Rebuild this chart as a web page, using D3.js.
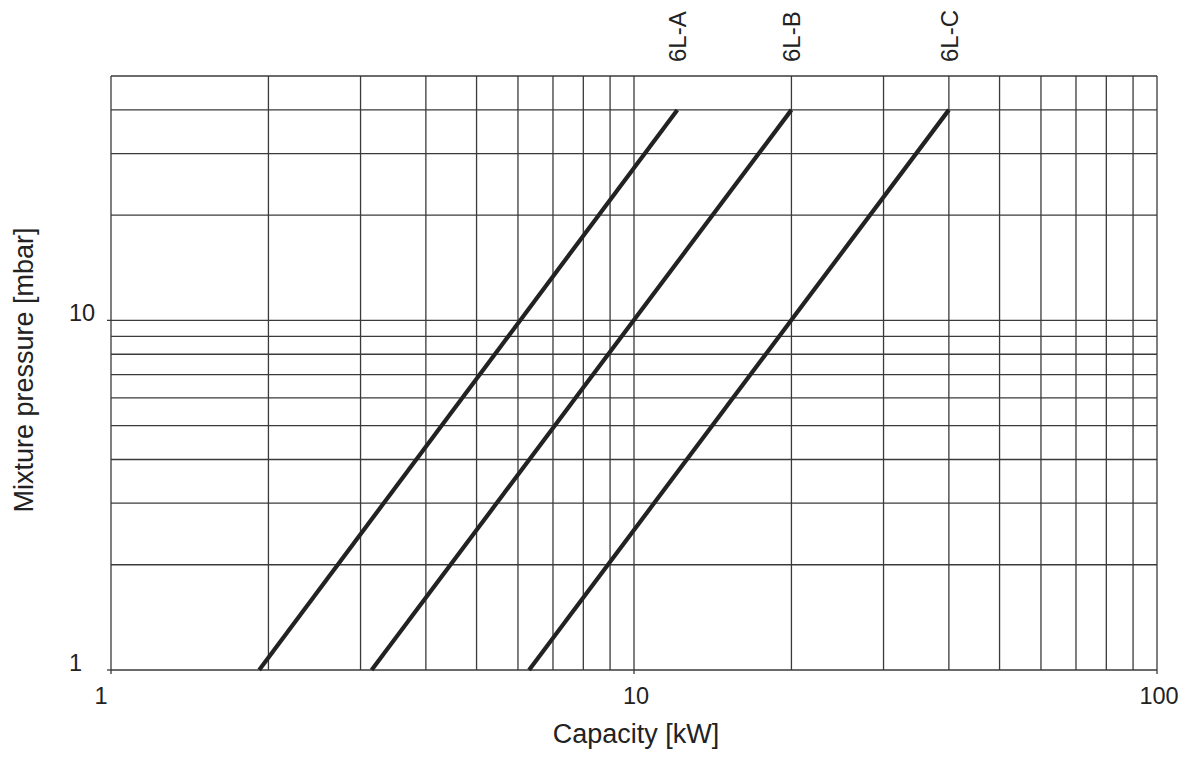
<!DOCTYPE html>
<html>
<head>
<meta charset="utf-8">
<script src="https://cdn.jsdelivr.net/npm/d3@7"></script>
<style>
  body { margin: 0; background: #fff; }
  svg text { font-family: "Liberation Sans", Arial, sans-serif; fill: #222; }
</style>
</head>
<body>
<div id="chart"></div>
<script>
// Series: straight lines on log-log axes
const seriesNames = ["6L-A", "6L-B", "6L-C"];
const capacityAt1mbar = [1.92, 3.15, 6.3];     // kW where each line starts (1 mbar)
const capacityAt40mbar = [12.1, 20, 40];       // kW where each line ends (40 mbar)
const pressureRange = [1, 40];                 // mbar at start / end of each line

const xTickValues = [1, 10, 100];
const yTickValues = [1, 10];
const xGrid = d3.range(1, 10).concat(d3.range(10, 100, 10), [100]);
const yGrid = d3.range(1, 11).concat([20, 30, 40, 50]);

const width = 1189, height = 763;
const margin = {left: 111, right: 32, top: 76, bottom: 93};

const svg = d3.select("#chart").append("svg")
    .attr("width", width)
    .attr("height", height);

const x = d3.scaleLog().domain([1, 100]).range([margin.left, width - margin.right]);
const y = d3.scaleLog().domain([1, 50]).range([height - margin.bottom, margin.top]);

const gridColor = "#3a3a3a";

// vertical grid
svg.append("g").selectAll("line")
    .data(xGrid)
    .enter().append("line")
    .attr("x1", d => x(d)).attr("x2", d => x(d))
    .attr("y1", y(1)).attr("y2", y(50))
    .attr("stroke", gridColor)
    .attr("stroke-width", 1.3);

// horizontal grid
svg.append("g").selectAll("line")
    .data(yGrid)
    .enter().append("line")
    .attr("x1", x(1)).attr("x2", x(100))
    .attr("y1", d => y(d)).attr("y2", d => y(d))
    .attr("stroke", gridColor)
    .attr("stroke-width", 1.3);

// small outside ticks
svg.append("g").selectAll("line")
    .data(xTickValues)
    .enter().append("line")
    .attr("x1", d => x(d)).attr("x2", d => x(d))
    .attr("y1", y(1)).attr("y2", y(1) + 4)
    .attr("stroke", gridColor).attr("stroke-width", 1.3);
svg.append("g").selectAll("line")
    .data(yTickValues)
    .enter().append("line")
    .attr("x1", x(1) - 4).attr("x2", x(1))
    .attr("y1", d => y(d)).attr("y2", d => y(d))
    .attr("stroke", gridColor).attr("stroke-width", 1.3);

// tick labels
svg.append("g").selectAll("text")
    .data(xTickValues)
    .enter().append("text")
    .attr("x", d => x(d) + (d === 1 ? -10 : 2))
    .attr("y", y(1) + 34)
    .attr("text-anchor", "middle")
    .style("font-size", "23.5px")
    .text(d => d);
svg.append("g").selectAll("text")
    .data(yTickValues)
    .enter().append("text")
    .attr("x", 69)
    .attr("y", d => y(d) + 1)
    .attr("text-anchor", "start")
    .style("font-size", "23.5px")
    .text(d => d);

// axis titles
svg.append("text")
    .attr("x", (x(1) + x(100)) / 2 + 2)
    .attr("y", 743)
    .attr("text-anchor", "middle")
    .style("font-size", "27px")
    .text("Capacity [kW]");
svg.append("text")
    .attr("transform", `translate(33,${(y(1) + y(50)) / 2 - 3}) rotate(-90)`)
    .attr("text-anchor", "middle")
    .style("font-size", "27px")
    .text("Mixture pressure [mbar]");

// characteristic lines
const line = d3.line().x(d => x(d[0])).y(d => y(d[1]));
seriesNames.forEach((name, i) => {
    const pts = [[capacityAt1mbar[i], pressureRange[0]], [capacityAt40mbar[i], pressureRange[1]]];
    svg.append("path")
        .attr("d", line(pts))
        .attr("fill", "none")
        .attr("stroke", "#222")
        .attr("stroke-width", 4.2);

    svg.append("text")
        .attr("transform", `translate(${x(capacityAt40mbar[i])},62) rotate(-90)`)
        .attr("dy", "0.36em")
        .attr("text-anchor", "start")
        .style("font-size", "24px")
        .text(name);
});
</script>
</body>
</html>
